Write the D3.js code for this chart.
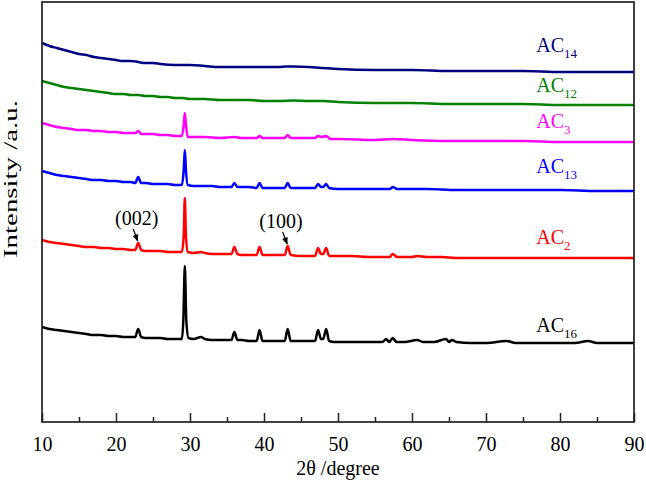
<!DOCTYPE html>
<html><head><meta charset="utf-8">
<script src="https://cdn.jsdelivr.net/npm/d3@7"></script>
<style>body{margin:0;background:#fff}svg{display:block}text{font-family:"Liberation Serif","Times New Roman",serif}</style>
</head><body><div id="chart"></div>
<script>
// 2θ ticks
const xMajorTicks = [10,20,30,40,50,60,70,80,90];
const xMinorTicks = [15,25,35,45,55,65,75,85];
// series names, colors (display order top->bottom)
const seriesNames = ["AC14","AC12","AC3","AC13","AC2","AC16"];
const seriesColors = ["#000080","#008000","#ff00ff","#0000ff","#ff0000","#000000"];
// intensity (a.u., stacked as displayed) at 2θ positions
const ac14 = [[10,379],[11,376],[12,374],[13,372],[14,370],[15,368],[16,367],[17,365],[18,364],[19,363],[20,362],[21,361],[22,361],[23,360],[24,359],[25,359],[26,358],[28,357],[30,357],[32,356],[34,355],[36,355],[38,355],[40,355],[42,355],[43,355.5],[44,355.5],[46,355],[48,354],[50,353],[55,352],[60,352],[65,351],[70,351],[75,351],[80,350],[85,350],[90,350]];
const ac12 = [[10,341],[11,339],[12,337],[13,335],[14,334],[15,333],[16,332],[17,331],[18,330],[19,329],[20,328],[21,328],[22,327],[23,327],[24,326],[25,326],[26,325],[27,325],[28,324],[29,324],[30,323],[32,323],[34,322],[36,322],[38,322],[40,321],[42,321],[44,321.5],[46,321],[48,321],[50,320],[55,319],[60,319],[65,318],[70,318],[75,318],[80,317],[85,317],[90,317]];
const ac3 = [[10,299],[11,297],[12,295],[13,294],[14,293],[15,292],[16,292],[17,291],[18,291],[19,290],[20,290],[21,289],[22,289],[22.6,289],[23.0,291],[23.4,288],[24,288],[25,288],[26,287],[27,287],[28,286],[28.9,286],[29.15,297],[29.3,309],[29.45,297],[29.7,285],[30.5,285],[32,285],[34,284],[36,285],[37,284],[39.0,284],[39.4,286],[39.8,284],[40,284],[42.8,284],[43.2,287],[43.6,284],[46.9,284],[47.3,286],[47.8,285],[48.4,286],[49,283],[50,283],[55,282],[57.4,283],[60,282],[65,281],[70,281],[75,281],[80,280],[85,280],[90,280]];
const ac13 = [[10,251],[11,249],[12,247],[13,246],[14,245],[15,244],[16,243],[17,242],[18,242],[19,241],[20,241],[21,240],[22,240],[22.6,239],[23.0,245],[23.4,239],[24,239],[25,238],[26,238],[27,238],[28,237],[28.9,237],[29.15,252],[29.3,272],[29.45,252],[29.7,237],[30.5,236],[32,236],[33,236],[34,235],[35.6,235],[36.0,239],[36.4,235],[37,235],[38,235],[39,234],[39.4,239],[39.8,234],[41,234],[42.8,234],[43.2,239],[43.6,234],[45,234],[46.9,234],[47.3,238],[47.7,235],[48.0,235],[48.4,238],[48.8,234],[50,233],[54,233],[57.0,233],[57.4,235],[58,233],[60,233],[62,233],[66,232],[70,232],[75,232],[80,232],[85,231],[90,231]];
const ac2 = [[10,182],[11,180],[12,179],[13,178],[14,177],[15,176],[16,175],[17,175],[18,174],[19,174],[20,173],[21,173],[22,172],[22.6,172],[23.0,179],[23.4,172],[24,171],[25,171],[26,171],[27,170],[28,170],[28.9,170],[29.15,187],[29.3,224],[29.45,187],[29.7,170],[30.5,169],[31.5,170],[32,169],[33,168],[34,168],[35.6,168],[36.0,175],[36.4,168],[37,167],[38,167],[39,167],[39.4,175],[39.8,167],[41,167],[42,167],[42.8,167],[43.2,176],[43.6,167],[45,166],[46.9,166],[47.3,174],[47.7,168],[48.0,168],[48.4,174],[48.8,166],[50,166],[52,166],[54,165],[56,165],[57.0,165],[57.4,168],[58,165],[60,165],[60.7,166],[62,165],[64,165],[66,164],[70,164],[75,164],[80,164],[85,164],[90,164]];
const ac16 = [[10,95],[11,93],[12,92],[13,91],[14,90],[15,89],[16,88],[17,87],[18,87],[19,86],[20,86],[21,85],[22,85],[22.6,85],[23.0,93],[23.4,85],[24,84],[25,84],[26,84],[27,83],[28,83],[28.9,83],[29.1,102],[29.3,156],[29.5,102],[29.8,84],[30.5,83],[31.5,85],[32,83],[33,82],[34,82],[35,82],[35.6,82],[36.0,90],[36.4,82],[37,82],[38,81],[39.0,81],[39.4,92],[39.8,81],[40,81],[41,81],[42,81],[42.8,81],[43.2,93],[43.6,81],[44,81],[45,81],[46,81],[46.9,81],[47.3,92],[47.7,83],[48.0,83],[48.4,93],[48.8,81],[49.5,80],[50,80],[52,80],[54,80],[56,80],[56.5,83],[56.9,80],[57.4,84],[57.9,80],[59,80],[60.7,82],[61.5,80],[63,80],[64.6,83],[65.0,80],[65.4,82],[66,80],[68,79],[70,79],[72.8,81],[74,79],[76,79],[78,79],[80,79],[82,79],[83.8,81],[85,79],[88,79],[90,79]];
const seriesData = [ac14, ac12, ac3, ac13, ac2, ac16];
// series label anchor (2θ, intensity)
const labelX = [76.8,76.8,76.8,76.8,76.8,76.8];
const labelY = [370,330,294,249,178,90];
// peak annotations (hkl): peak 2θ, text 2θ, peak intensity on AC2
const annText = ["(002)","(100)"];
const annX = [23.0,43.2];
const annTextX = [22.8,42.3];
const annPeak = [179,176];

const W=646,H=483;
const m={left:42,top:2,right:12,bottom:61};
const iw=W-m.left-m.right, ih=H-m.top-m.bottom;
const svg=d3.select("#chart").append("svg").attr("width",W).attr("height",H);
const g=svg.append("g").attr("transform",`translate(${m.left},${m.top})`);
const x=d3.scaleLinear().domain([10,90]).range([0,iw]);
const y=d3.scaleLinear().domain([0,420]).range([ih,0]);

// lines
const line=d3.line().x(d=>x(d[0])).y(d=>y(d[1])).curve(d3.curveMonotoneX);
seriesData.forEach((s,i)=>{
  g.append("path").datum(s).attr("d",line).attr("fill","none")
   .attr("stroke",seriesColors[i]).attr("stroke-width",2.5).attr("stroke-linejoin","round");
});

// frame
g.append("rect").attr("x",0).attr("y",0).attr("width",iw).attr("height",ih)
 .attr("fill","none").attr("stroke","#222").attr("stroke-width",1.7);

// axis ticks (inward)
const xAxis=d3.axisBottom(x).tickValues(xMajorTicks).tickSize(-9).tickPadding(15).tickFormat(d3.format("d"));
const ax=g.append("g").attr("transform",`translate(0,${ih})`).call(xAxis);
ax.select(".domain").remove();
ax.attr("font-size",20).attr("font-family",null);
ax.selectAll("line").attr("stroke","#222").attr("stroke-width",1.5);
ax.selectAll("text").attr("font-size",20).attr("fill","#000");
const axm=d3.axisBottom(x).tickValues(xMinorTicks).tickSize(-5).tickFormat("");
const am=g.append("g").attr("transform",`translate(0,${ih})`).call(axm);
am.select(".domain").remove();
am.selectAll("line").attr("stroke","#222").attr("stroke-width",1.5);

// axis titles
svg.append("text").attr("x",m.left+iw/2).attr("y",475).attr("text-anchor","middle")
 .attr("font-size",20).text("2θ /degree");
svg.append("text").attr("transform",`translate(16.5,${179}) rotate(-90)`).attr("text-anchor","middle")
 .attr("font-size",19).attr("textLength",158).attr("lengthAdjust","spacingAndGlyphs").text("Intensity /a.u.");

// series labels
seriesNames.forEach((n,i)=>{
  const t=g.append("text").attr("x",x(labelX[i])).attr("y",y(labelY[i])).attr("fill",seriesColors[i]).attr("font-size",20);
  t.append("tspan").text(n.slice(0,2));
  t.append("tspan").attr("font-size",13).attr("dy",6).text(n.slice(2));
});

// annotations
svg.append("defs").append("marker").attr("id","ah").attr("viewBox","0 0 10 10").attr("refX",9).attr("refY",5)
 .attr("markerWidth",7).attr("markerHeight",6).attr("orient","auto")
 .append("path").attr("d","M0,1 L10,5 L0,9 z").attr("fill","#000");
annText.forEach((t,i)=>{
  const px=x(annX[i]), py=y(annPeak[i]);
  g.append("text").attr("x",x(annTextX[i])).attr("y",py-18).attr("text-anchor","middle").attr("font-size",20).text(t);
  g.append("line").attr("x1",px-5).attr("y1",py-14).attr("x2",px-0.5).attr("y2",py-2)
   .attr("stroke","#000").attr("stroke-width",1.2).attr("marker-end","url(#ah)");
});
</script></body></html>
